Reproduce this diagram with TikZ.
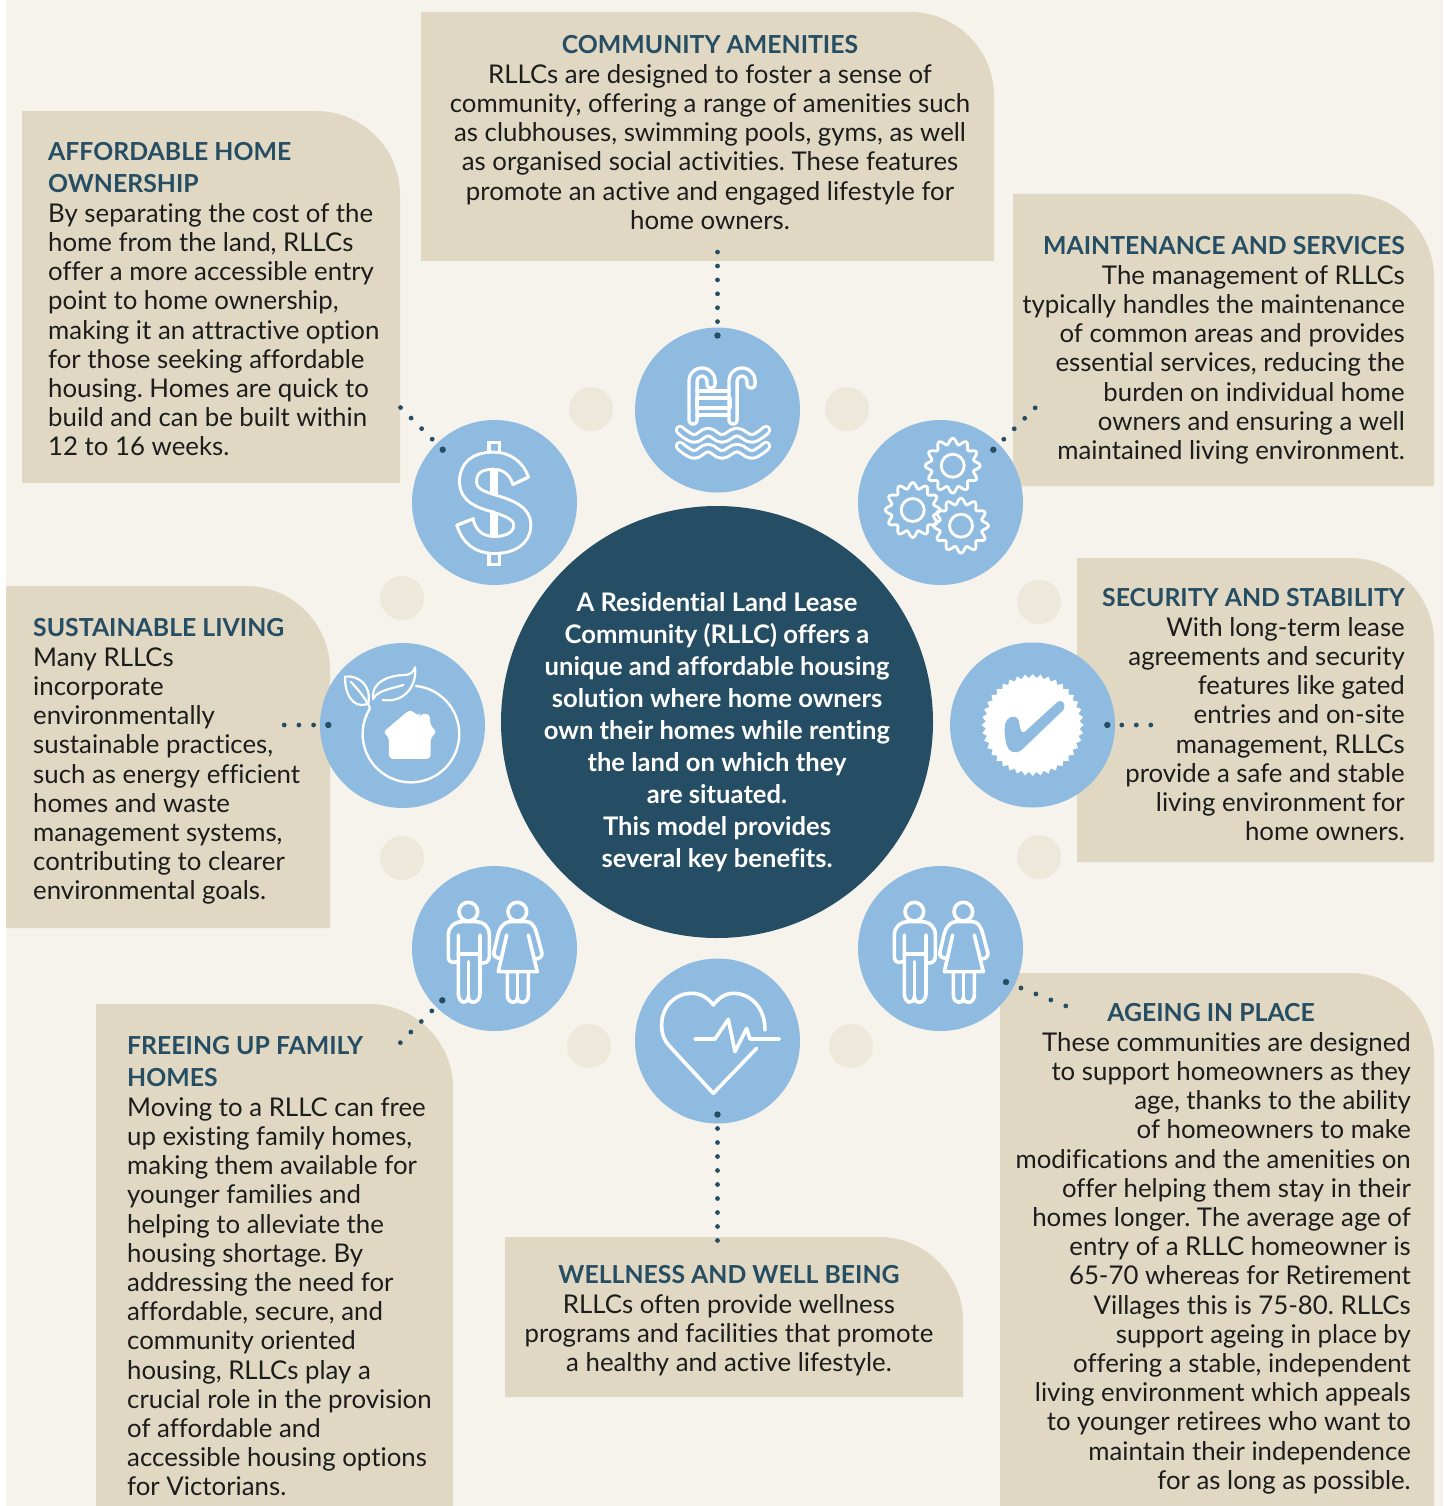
\documentclass[tikz,border=0pt]{standalone}
\usepackage{fontspec}
\setmainfont[Ligatures=CommonOff]{Lato}
\frenchspacing
\definecolor{pagebg}{HTML}{F6F3EC}
\definecolor{panelc}{HTML}{E0D8C2}
\definecolor{softc}{HTML}{EDE8DA}
\definecolor{bluec}{HTML}{8FBBE0}
\definecolor{darkc}{HTML}{254D63}
\definecolor{inkc}{HTML}{1C1C1C}
\newcommand{\bodyfont}{\fontsize{25.8}{29.2}\selectfont}
\newcommand{\headfont}{\fontsize{24.8}{29.2}\selectfont\bfseries\color{darkc}}
\newcommand{\hdx}[1]{{\headfont #1}\\[0.8pt]}
\newcommand{\hdy}[1]{{\headfont #1}\\[2.8pt]}
\tikzset{
 x=1pt,y=-1pt,
 panel/.style={fill=panelc,draw=none},
 iconc/.style={circle,fill=bluec,minimum size=165pt,inner sep=0pt,draw=none},
 softdot/.style={circle,fill=softc,minimum size=44pt,inner sep=0pt,draw=none},
 txt/.style={inner sep=0pt,text=inkc,font=\bodyfont,anchor=north},
 txtl/.style={txt,align=left,anchor=north west},
 txtr/.style={txt,align=right,anchor=north east},
 txtc/.style={txt,align=center,anchor=north},
 dots/.style={draw=darkc,line cap=round,line width=4.8pt,dash pattern=on 0pt off #1pt},
 enddot/.style={circle,fill=darkc,minimum size=6.4pt,inner sep=0pt,draw=none},
 wl/.style={draw=white,line width=3.6pt,line cap=round,line join=round},
 people/.pic={
  \begin{scope}[x=0.3333pt,y=-0.3333pt,wl]
  \draw (205,155) circle[radius=28];
  \draw (175,225) -- (175,400) .. controls (175,432) and (205,435) .. (205,410) .. controls (205,435) and (240,432) .. (240,400) -- (240,225);
  \draw (205,410) -- (205,305);
  \draw (175,282) -- (240,282);
  \draw (170,305) .. controls (150,312) and (145,300) .. (145,290) -- (145,225) .. controls (145,200) and (165,185) .. (185,185) -- (230,185) .. controls (250,185) and (268,200) .. (268,225) -- (268,290) .. controls (268,305) and (255,312) .. (242,308);
  \draw (352,155) circle[radius=28];
  \draw (320,225) -- (295,335) -- (412,335) -- (385,225);
  \draw (305,295) .. controls (290,295) and (278,290) .. (282,275) -- (295,220) .. controls (300,200) and (315,185) .. (330,185) -- (380,185) .. controls (395,185) and (405,200) .. (410,220) -- (426,280) .. controls (426,292) and (415,298) .. (405,296);
  \draw (322,338) -- (322,405) .. controls (322,432) and (352,435) .. (352,412) .. controls (352,435) and (385,432) .. (385,405) -- (385,338);
  \draw (352,412) -- (352,338);
  \end{scope}
 }
}
\begin{document}
\begin{tikzpicture}
\useasboundingbox (0,0) rectangle (1443,1506);
\fill[white] (0,0) rectangle (1443,1506);
\fill[pagebg] (6,0) rectangle (1443,1506);
% panels
\fill[panel] (421,12) -- (910,12) arc[start angle=90,end angle=0,x radius=84,y radius=-84] -- (994,261) -- (421,261) -- cycle;
\fill[panel] (22,111) -- (316,111) arc[start angle=90,end angle=0,x radius=84,y radius=-84] -- (400,483) -- (22,483) -- cycle;
\fill[panel] (1013,194) -- (1350,194) arc[start angle=90,end angle=0,x radius=84,y radius=-84] -- (1434,486) -- (1013,486) -- cycle;
\fill[panel] (1077,558) -- (1350,558) arc[start angle=90,end angle=0,x radius=84,y radius=-84] -- (1434,862) -- (1077,862) -- cycle;
\fill[panel] (6,586) -- (246,586) arc[start angle=90,end angle=0,x radius=84,y radius=-84] -- (330,928) -- (6,928) -- cycle;
\fill[panel] (96,1004) -- (369,1004) arc[start angle=90,end angle=0,x radius=84,y radius=-84] -- (453,1506) -- (96,1506) -- cycle;
\fill[panel] (505,1237) -- (879,1237) arc[start angle=90,end angle=0,x radius=84,y radius=-84] -- (963,1397) -- (505,1397) -- cycle;
\fill[panel] (1000,973) -- (1350,973) arc[start angle=90,end angle=0,x radius=84,y radius=-84] -- (1434,1506) -- (1000,1506) -- cycle;
% soft dots
\foreach \n/\x/\y in {s1/591/409,s2/847/409,s3/402/598,s4/1039/602,s5/402/858,s6/1039/857,s7/589/1046,s8/851/1046}
  \node[softdot] (\n) at (\x,\y) {};
% main circles
\node[circle,fill=darkc,minimum size=432pt,inner sep=0pt] (hub) at (717,722) {};
\node[iconc] (pool) at (717.5,410) {};
\node[iconc] (gears) at (940.5,502.5) {};
\node[iconc] (check) at (1032.5,725) {};
\node[iconc] (peopleR) at (940.5,948.5) {};
\node[iconc] (heart) at (717.5,1041) {};
\node[iconc] (peopleL) at (494.5,948.5) {};
\node[iconc] (home) at (402.5,725.5) {};
\node[iconc] (dollar) at (494.5,502.5) {};
% connector ends
\node[enddot] (e1) at (717.5,335.5) {};
\coordinate (f1) at (717.5,250.5);
\node[enddot] (e2) at (993.3,449.7) {};
\coordinate (f2) at (1036,407);
\node[enddot] (e3) at (1107.3,725) {};
\coordinate (f3) at (1152,725);
\node[enddot] (e4) at (1006,982) {};
\coordinate (f4) at (1067,1006.4);
\node[enddot] (e5) at (717.5,1114.5) {};
\coordinate (f5) at (717.5,1241);
\node[enddot] (e6) at (442.3,1000.3) {};
\coordinate (f6) at (399.5,1043.5);
\node[enddot] (e7) at (328.3,725) {};
\coordinate (f7) at (283,725);
\node[enddot] (e8) at (442.7,449.7) {};
\coordinate (f8) at (399.5,406.5);
\foreach \i/\s in {1/13.9,2/14.8,3/14.5,4/16.1,5/14,6/14.9,7/14.7,8/14.9}
  \draw[dots=\s] (e\i.center) -- (f\i);
% hub text
\node[inner sep=0pt,align=center,text=white,font=\fontsize{25.6}{32}\selectfont\bfseries] (hubtext) at (717,732) {A Residential Land Lease\\Community (RLLC) offers a\\unique and affordable housing\\solution where home owners\\own their homes while renting\\the land on which they\\are situated.\\This model provides\\several key benefits.};
% panel text
\node[txtc] (t1) at (710,35) {\hdx{COMMUNITY AMENITIES}RLLCs are designed to foster a sense of\\community, offering a range of amenities such\\as clubhouses, swimming pools, gyms, as well\\as organised social activities. These features\\promote an active and engaged lifestyle for\\home owners.};
\node[txtl] (t2) at (48,142) {\hdy{AFFORDABLE HOME}\hdx{OWNERSHIP}By separating the cost of the\\home from the land, RLLCs\\offer a more accessible entry\\point to home ownership,\\making it an attractive option\\for those seeking affordable\\housing. Homes are quick to\\build and can be built within\\12 to 16 weeks.};
\node[txtr] (t3) at (1405,236) {\hdx{MAINTENANCE AND SERVICES}The management of RLLCs\\typically handles the maintenance\\of common areas and provides\\essential services, reducing the\\burden on individual home\\owners and ensuring a well\\maintained living environment.};
\node[txtr] (t4) at (1405,588) {\hdx{SECURITY AND STABILITY}With long-term lease\\agreements and security\\features like gated\\entries and on-site\\management, RLLCs\\provide a safe and stable\\living environment for\\home owners.};
\node[txtl] (t5) at (33,618) {\hdx{SUSTAINABLE LIVING}Many RLLCs\\incorporate\\environmentally\\sustainable practices,\\such as energy efficient\\homes and waste\\management systems,\\contributing to clearer\\environmental goals.};
\node[txtl] (t6) at (127,1036) {\hdy{FREEING UP FAMILY}\hdx{HOMES}Moving to a RLLC can free\\up existing family homes,\\making them available for\\younger families and\\helping to alleviate the\\housing shortage. By\\addressing the need for\\affordable, secure, and\\community oriented\\housing, RLLCs play a\\crucial role in the provision\\of affordable and\\accessible housing options\\for Victorians.};
\node[txtc] (t7) at (729,1265) {\hdx{WELLNESS AND WELL BEING}RLLCs often provide wellness\\programs and facilities that promote\\a healthy and active lifestyle.};
\node[txtr] (t8) at (1411,1003) {{\headfont AGEING IN PLACE\hspace{96pt}}\\[0.8pt]These communities are designed\\to support homeowners as they\\age, thanks to the ability\\of homeowners to make\\modifications and the amenities on\\offer helping them stay in their\\homes longer. The average age of\\entry of a RLLC homeowner is\\65-70 whereas for Retirement\\Villages this is 75-80. RLLCs\\support ageing in place by\\offering a stable, independent\\living environment which appeals\\to younger retirees who want to\\maintain their independence\\for as long as possible.};
% pool icon
\begin{scope}[line cap=round,line join=round]
\foreach \o in {0,40}{
 \draw[white,line width=11.5pt] (693+\o,420) -- (693+\o,381) arc[start angle=180,end angle=0,x radius=9,y radius=-9] -- (711+\o,384);
 \draw[bluec,line width=4.6pt] (693+\o,420) -- (693+\o,381) arc[start angle=180,end angle=0,x radius=9,y radius=-9] -- (711+\o,384);
}
\draw[wl] (697,391) -- (729,391) (697,415) -- (729,415);
\draw[wl] (697,398) rectangle (730,408);
\foreach \o in {0,16}{
 \draw[white,line width=10.5pt] plot[smooth,tension=.7] coordinates {(680,430+\o) (694,438.5+\o) (708,432+\o) (722,438.5+\o) (737,432+\o) (752,438.5+\o) (766,430+\o)};
 \draw[bluec,line width=4.4pt] plot[smooth,tension=.7] coordinates {(680,430+\o) (694,438.5+\o) (708,432+\o) (722,438.5+\o) (737,432+\o) (752,438.5+\o) (766,430+\o)};
}
\end{scope}
% gears
\foreach \cx/\cy in {952.7/465.7,912.7/510,961/525.7}{
 \draw[white,line width=2.8pt,line join=round] plot[smooth cycle,domain=0:357,samples=120,variable=\t] ({\cx+24.5*cos(\t)+3*cos(12*\t)*cos(\t)},{\cy+24.5*sin(\t)+3*cos(12*\t)*sin(\t)});
 \draw[white,line width=2.8pt] (\cx,\cy) circle[radius=11.5];
}
% check badge
\fill[white] (1032.7+51,725)
  \foreach \i in {1,...,79}{ -- ({1032.7+(51-4*mod(\i,2))*cos(\i*4.5)},{725+(51-4*mod(\i,2))*sin(\i*4.5)}) } -- cycle;
\begin{scope}[shift={(940,630)},x=0.3333pt,y=-0.3333pt]
\fill[bluec] (195,285) .. controls (198,258) and (235,248) .. (238,280) .. controls (240,300) and (245,312) .. (255,305) -- (350,218) .. controls (365,205) and (380,220) .. (370,240) -- (245,360) .. controls (225,375) and (205,365) .. (200,345) .. controls (195,325) and (192,305) .. (195,285) -- cycle;
\end{scope}
% people
\pic at (400,860) {people};
\pic at (846,860) {people};
% heart
\begin{scope}[shift={(400,860)},x=0.3333pt,y=-0.3333pt,wl]
\draw (1095,510) .. controls (1095,440) and (1050,400) .. (1000,400) .. controls (975,400) and (955,415) .. (940,435) .. controls (925,415) and (905,400) .. (875,400) .. controls (825,400) and (785,440) .. (785,495) .. controls (785,525) and (795,545) .. (810,560) -- (940,700) -- (1070,565);
\draw (885,537) -- (945,537) -- (985,478) -- (1005,575) -- (1040,505) -- (1050,537) -- (1138,537);
\end{scope}
% home
\begin{scope}[shift={(310,410)},x=0.3333pt,y=-0.3333pt]
\draw[white,line width=2.4pt,line cap=round] (318,828) arc[start angle=84,end angle=-211,x radius=145,y radius=-145];
\fill[white,rounded corners=4pt] (300,898) -- (328,920) -- (330,912) -- (360,912) -- (360,945) -- (382,968) -- (362,980) -- (362,1047) -- (237,1047) -- (237,980) -- (218,968) -- cycle;
\begin{scope}[wl,line width=2.2pt]
\draw (105,800) .. controls (145,795) and (185,825) .. (175,880) .. controls (150,895) and (105,880) .. (105,800) -- cycle;
\draw (122,815) .. controls (150,845) and (170,870) .. (180,895);
\draw (190,868) .. controls (180,810) and (250,795) .. (285,795) .. controls (300,795) and (312,785) .. (315,772) .. controls (322,830) and (280,880) .. (218,870);
\draw (190,865) .. controls (205,840) and (250,835) .. (280,825);
\end{scope}
\end{scope}
% dollar
\begin{scope}[shift={(310,410)},x=0.3333pt,y=-0.3333pt]
\def\spath{(632,212) .. controls (620,175) and (590,152) .. (550,152) .. controls (500,152) and (474,175) .. (474,215) .. controls (474,255) and (510,268) .. (550,280) .. controls (600,295) and (637,310) .. (637,345) .. controls (637,385) and (600,405) .. (555,405) .. controls (505,405) and (478,380) .. (465,338)}
\draw[white,line width=20pt] \spath;
\draw[bluec,line width=14pt] \spath;
\draw[white,line width=3.2pt,line cap=round] (608,224) -- (656,201) (440,346) -- (491,326);
\draw[white,line width=3.2pt] (537,130) -- (537,98) -- (569,98) -- (569,130);
\draw[white,line width=3.2pt] (537,430) -- (537,463) -- (569,463) -- (569,430);
\draw[white,line width=3.2pt] (546,175) -- (546,252) (558,175) -- (558,258);
\draw[white,line width=3.2pt] (546,300) -- (546,380) (558,308) -- (558,380);
\end{scope}
\end{tikzpicture}
\end{document}
